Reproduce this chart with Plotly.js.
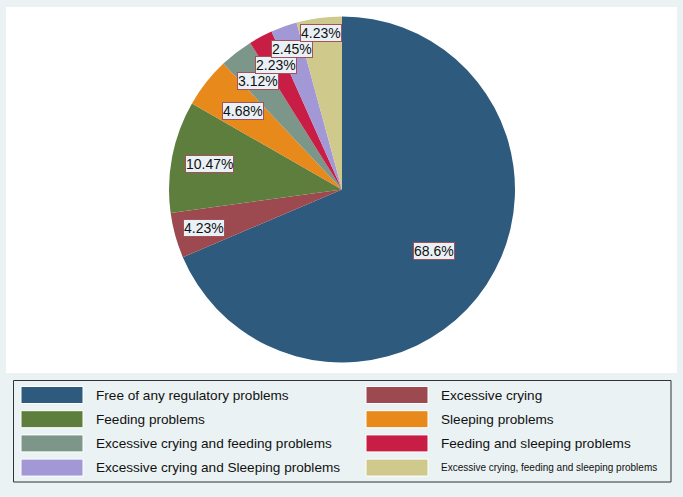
<!DOCTYPE html>
<html>
<head>
<meta charset="utf-8">
<script src="https://cdn.plot.ly/plotly-3.0.1.min.js"></script>
<style>
  html, body { margin: 0; padding: 0; background: #EAF2F3; }
  #chart { width: 683px; height: 497px; }
</style>
</head>
<body>
<div id="chart"></div>
<script>
// Regulatory problem groups and their shares (%)
const categories = [
  "Free of any regulatory problems",
  "Excessive crying",
  "Feeding problems",
  "Sleeping problems",
  "Excessive crying and feeding problems",
  "Feeding and sleeping problems",
  "Excessive crying and Sleeping problems",
  "Excessive crying, feeding and sleeping problems"
];
const shares = [68.6, 4.23, 10.47, 4.68, 3.12, 2.23, 2.45, 4.23];
const sliceLabels = ["68.6%", "4.23%", "10.47%", "4.68%", "3.12%", "2.23%", "2.45%", "4.23%"];

// Styling
const colors = ["#2E5A7E", "#9C4A4F", "#5E7E3E", "#E8891C", "#7C968A", "#C81D45", "#A398D6", "#CFC98C"];
const labelRadius = [0.64, 0.83, 0.78, 0.73, 0.79, 0.815, 0.865, 0.91]; // fraction of pie radius

const W = 683, H = 497;
const cx = 342, cy = 189.5, R = 173;

const domainX = [(cx - R) / W, (cx + R) / W];
const domainY = [1 - (cy + R) / H, 1 - (cy - R) / H];

const pie = {
  type: "pie",
  values: shares,
  labels: categories,
  sort: false,
  direction: "clockwise",
  rotation: 0,
  textinfo: "none",
  hoverinfo: "skip",
  showlegend: false,
  marker: { colors: colors, line: { width: 0 } },
  domain: { x: domainX, y: domainY }
};

// Boxed percentage labels placed along each slice's mid angle
const total = shares.reduce((a, b) => a + b, 0);
const annotations = [];
let cum = 0;
shares.forEach((v, i) => {
  const mid = (cum + v / 2) / total * 2 * Math.PI;
  cum += v;
  const r = labelRadius[i] * R;
  annotations.push({
    xref: "paper", yref: "paper",
    x: (cx + r * Math.sin(mid)) / W,
    y: 1 - (cy - r * Math.cos(mid)) / H,
    text: sliceLabels[i],
    showarrow: false,
    xanchor: "center", yanchor: "middle",
    font: { family: "Liberation Sans, Arial, sans-serif", size: 14, color: "#111" },
    bgcolor: "#EAF1F6",
    bordercolor: "#A2525A",
    borderwidth: 1,
    borderpad: 0
  });
});

// Plot region and legend frame
const shapes = [
  { type: "rect", xref: "paper", yref: "paper", layer: "below",
    x0: 6 / W, x1: 677 / W, y0: 1 - 373 / H, y1: 1 - 7 / H,
    fillcolor: "#FFFFFF", line: { width: 0 } },
  { type: "rect", xref: "paper", yref: "paper", layer: "above",
    x0: 13.5 / W, x1: 671 / W, y0: 1 - 482 / H, y1: 1 - 380.5 / H,
    fillcolor: "rgba(0,0,0,0)", line: { color: "#333", width: 1 } }
];

// Two-column legend, filled row by row
const legendRowTop = 386.5, legendRowStep = 24.2, swatchH = 17;
const colSwatchX = [21, 366], swatchW = 62, colTextX = [94, 439];
categories.forEach((name, i) => {
  const col = i % 2, row = Math.floor(i / 2);
  const top = legendRowTop + row * legendRowStep;
  shapes.push({
    type: "rect", xref: "paper", yref: "paper", layer: "above",
    x0: colSwatchX[col] / W, x1: (colSwatchX[col] + swatchW) / W,
    y0: 1 - (top + swatchH) / H, y1: 1 - top / H,
    fillcolor: colors[i], line: { color: "#FFFFFF", width: 1 }
  });
  const small = i === categories.length - 1;
  annotations.push({
    xref: "paper", yref: "paper",
    x: colTextX[col] / W,
    y: 1 - (top + swatchH / 2) / H,
    text: name,
    showarrow: false,
    xanchor: "left", yanchor: "middle",
    font: { family: "Liberation Sans, Arial, sans-serif", size: small ? 10 : 13.6, color: "#111" }
  });
});

const layout = {
  width: W, height: H,
  margin: { l: 0, r: 0, t: 0, b: 0 },
  paper_bgcolor: "#EAF2F3",
  plot_bgcolor: "#EAF2F3",
  showlegend: false,
  shapes: shapes,
  annotations: annotations
};

Plotly.newPlot("chart", [pie], layout, { staticPlot: true, displayModeBar: false });
</script>
</body>
</html>
